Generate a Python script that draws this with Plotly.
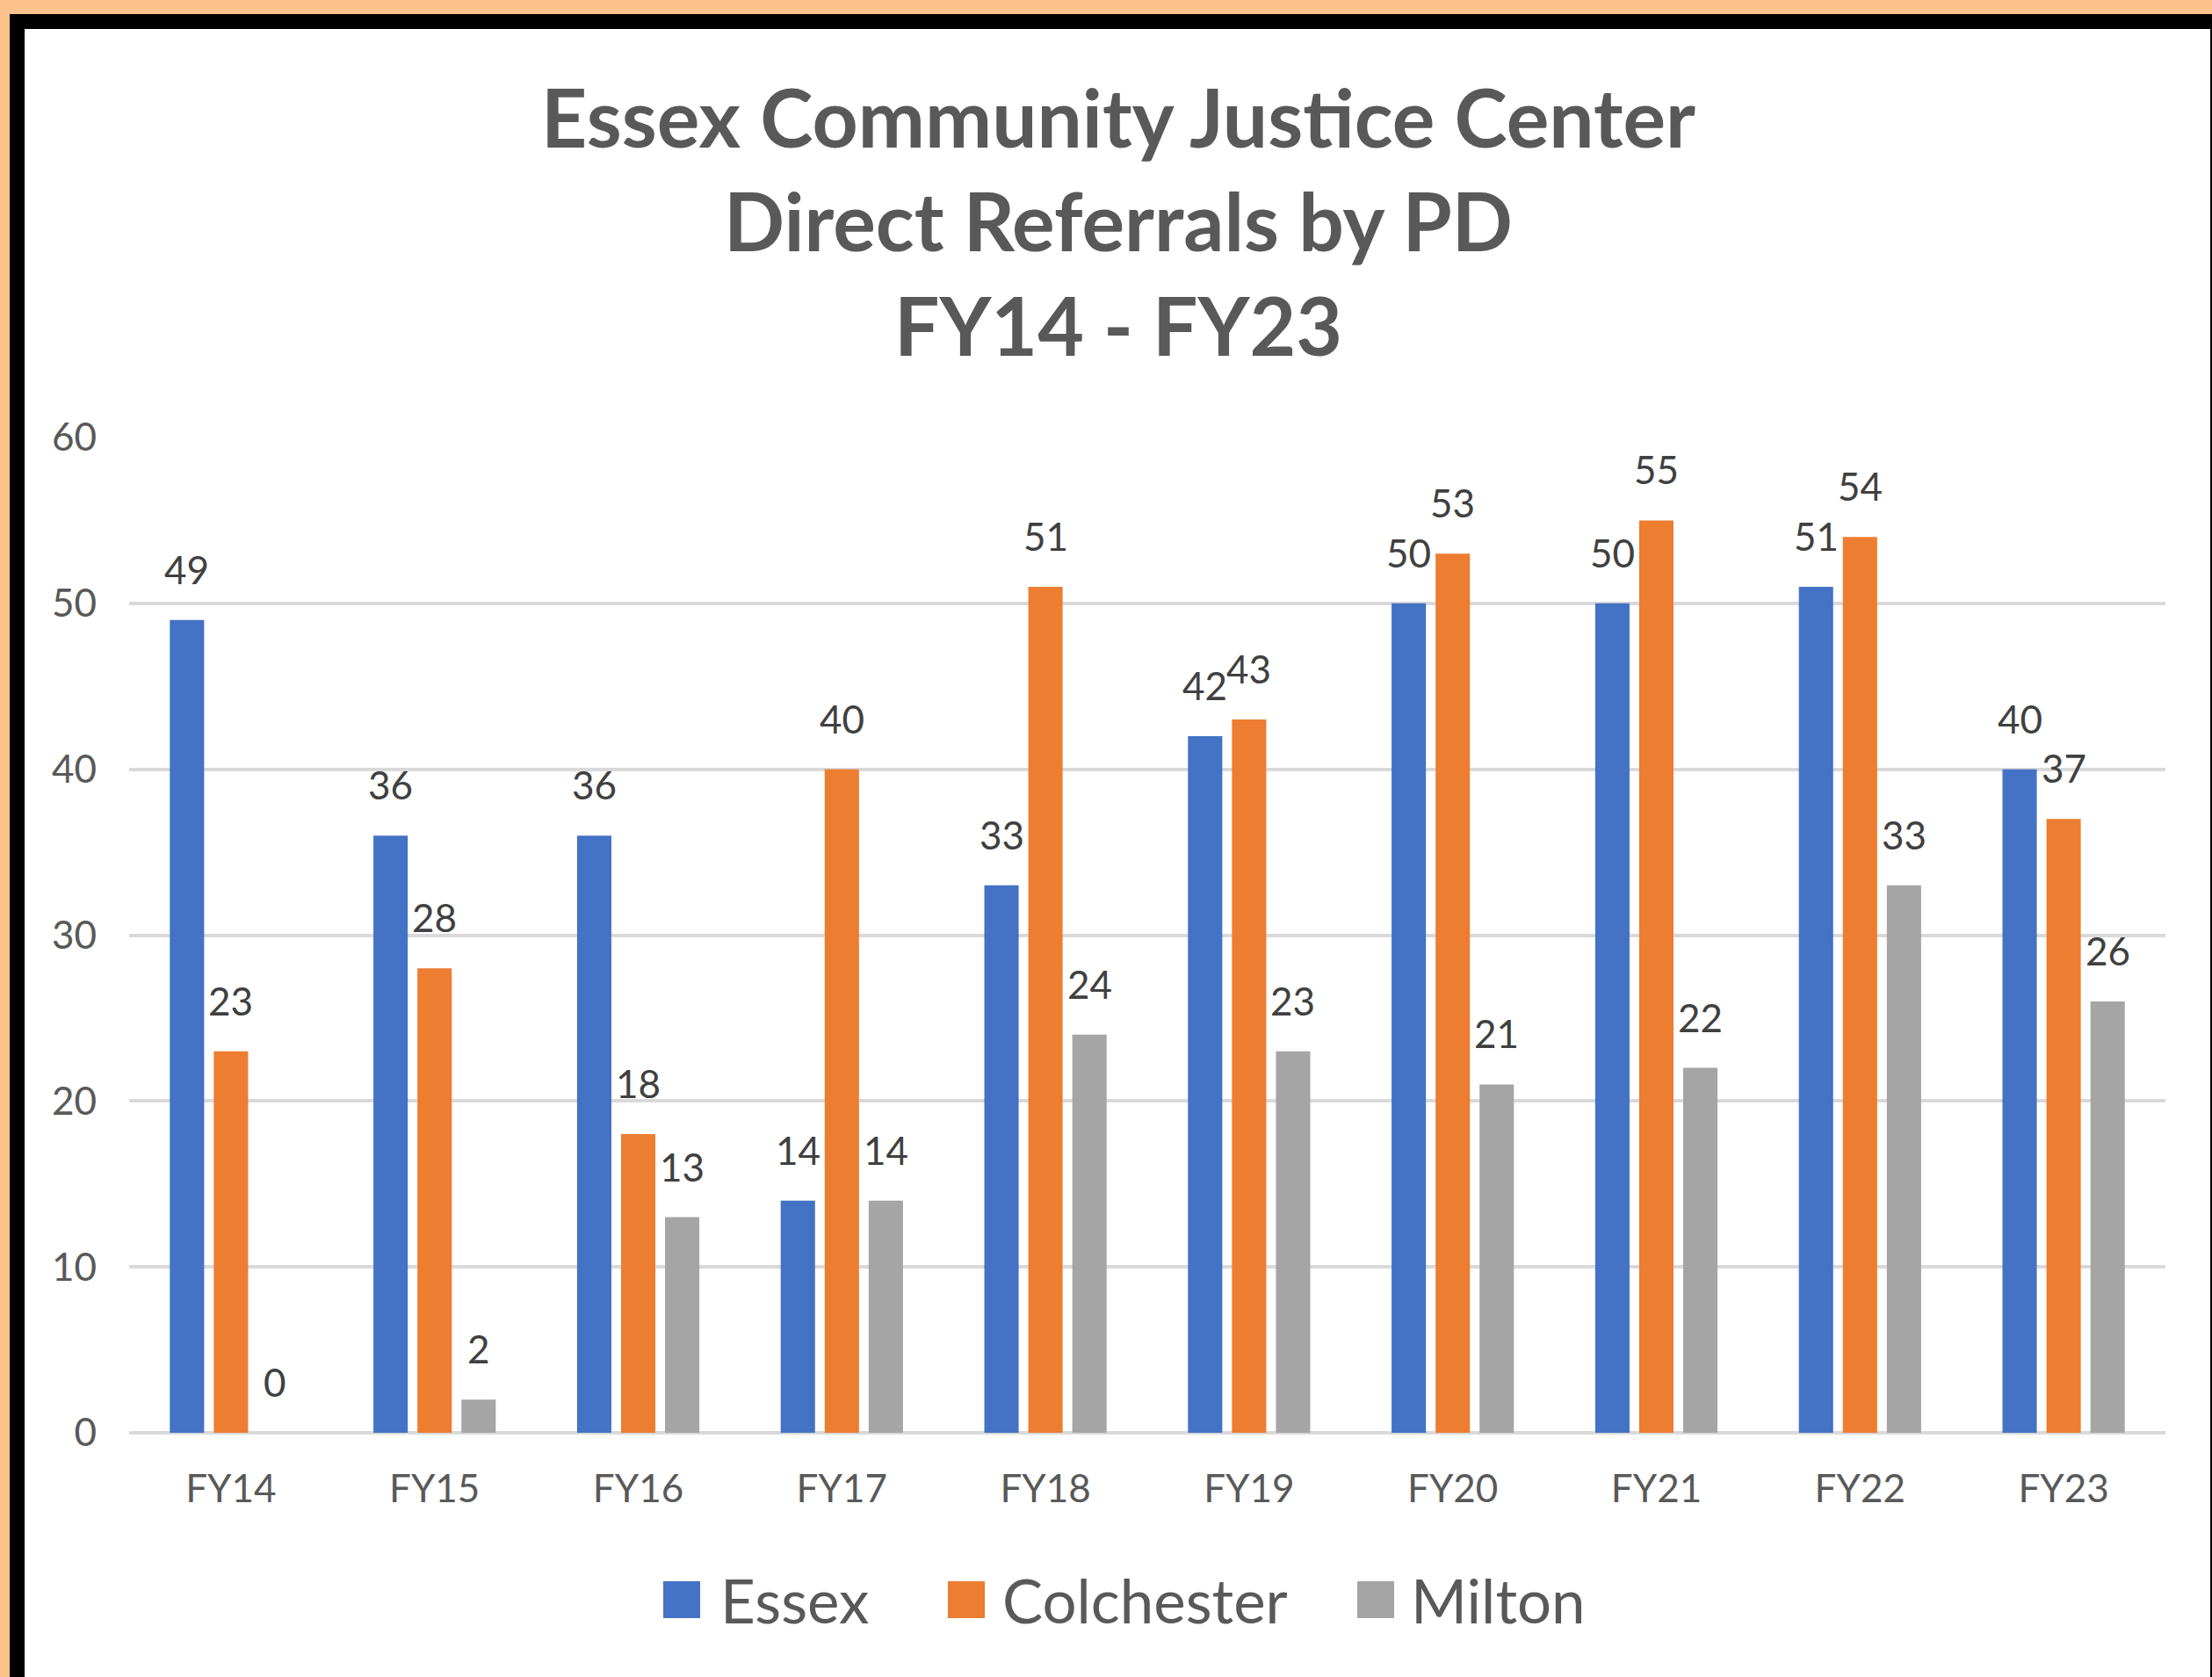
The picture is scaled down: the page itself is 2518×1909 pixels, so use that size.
import plotly.graph_objects as go

# ---- data ----
categories = ["FY14", "FY15", "FY16", "FY17", "FY18", "FY19", "FY20", "FY21", "FY22", "FY23"]
series_names = ["Essex", "Colchester", "Milton"]
essex = [49, 36, 36, 14, 33, 42, 50, 50, 51, 40]
colchester = [23, 28, 18, 40, 51, 43, 53, 55, 54, 37]
milton = [0, 2, 13, 14, 24, 23, 21, 22, 33, 26]
y_ticks = [0, 10, 20, 30, 40, 50, 60]
title_lines = ["Essex Community Justice Center", "Direct Referrals by PD", "FY14 - FY23"]

# ---- style ----
W, H = 2518, 1909
L, R, T, B = 147, 53, 498, 278
colors = ["#4472C4", "#ED7D31", "#A5A5A5"]
FONT = "Lato, 'Open Sans', sans-serif"
BARGAP = 0.352
BARGROUPGAP = 0.22

pw = W - L - R
ph = H - T - B


def px_x(px):
    return (px - L) / pw


def px_y(py):
    return (H - B - py) / ph


fig = go.Figure()
all_series = [essex, colchester, milton]
for name, vals, col in zip(series_names, all_series, colors):
    fig.add_trace(go.Bar(name=name, x=categories, y=vals, marker=dict(color=col, line=dict(width=0)),
                         showlegend=False))

# data labels via axis coordinates
slot = (1 - BARGAP) / len(all_series)
annotations = []
for si, vals in enumerate(all_series):
    off = (si - (len(all_series) - 1) / 2) * slot
    for ci, v in enumerate(vals):
        annotations.append(dict(x=ci + off, y=v, xref="x", yref="y", text=str(v), showarrow=False,
                                yanchor="middle", yshift=58,
                                font=dict(family=FONT, size=44, color="#404040")))

# manual legend
legend_swatch_x = [755, 1079, 1545]
legend_text_x = [818, 1139, 1604]
for name, col, sx, tx in zip(series_names, colors, legend_swatch_x, legend_text_x):
    fig.add_shape(type="rect", xref="paper", yref="paper", x0=px_x(sx), x1=px_x(sx + 42),
                  y0=px_y(1842), y1=px_y(1800), fillcolor=col, line=dict(width=0), layer="above")
    annotations.append(dict(x=px_x(tx), y=px_y(1821), xref="paper", yref="paper", text=name,
                            showarrow=False, xanchor="left", yanchor="middle",
                            font=dict(family=FONT, size=69, color="#595959")))

# frame
fig.add_shape(type="rect", xref="paper", yref="paper", x0=px_x(11), x1=px_x(W + 5),
              y0=px_y(H + 10), y1=px_y(16), fillcolor="#000000", line=dict(width=0), layer="below")
fig.add_shape(type="rect", xref="paper", yref="paper", x0=px_x(28), x1=px_x(2516),
              y0=px_y(H + 10), y1=px_y(33), fillcolor="#FFFFFF", line=dict(width=0), layer="below")

fig.update_layout(
    width=W, height=H,
    margin=dict(l=L, r=R, t=T, b=B, pad=0),
    paper_bgcolor="#FCC28C",
    plot_bgcolor="rgba(0,0,0,0)",
    barmode="group", bargap=BARGAP, bargroupgap=BARGROUPGAP,
    title=dict(text="<br>".join(title_lines), x=1273 / W, xanchor="center",
               y=1 - 168 / H, yanchor="middle",
               font=dict(family=FONT, size=91, color="#595959", weight="bold")),
    annotations=annotations,
    xaxis=dict(type="category", range=[-0.5, len(categories) - 0.5], showgrid=False, showline=False,
               zeroline=False, ticks="", tickfont=dict(family=FONT, size=44, color="#595959"),
               ticklabelstandoff=34),
    yaxis=dict(range=[0, 60], tickvals=y_ticks, showgrid=True, gridcolor="#D9D9D9", gridwidth=3.5,
               zeroline=True, zerolinecolor="#D9D9D9", zerolinewidth=3.5, showline=False, ticks="",
               tickfont=dict(family=FONT, size=44, color="#595959"), ticklabelstandoff=36),
    showlegend=False,
)

fig.write_html("out.html")
